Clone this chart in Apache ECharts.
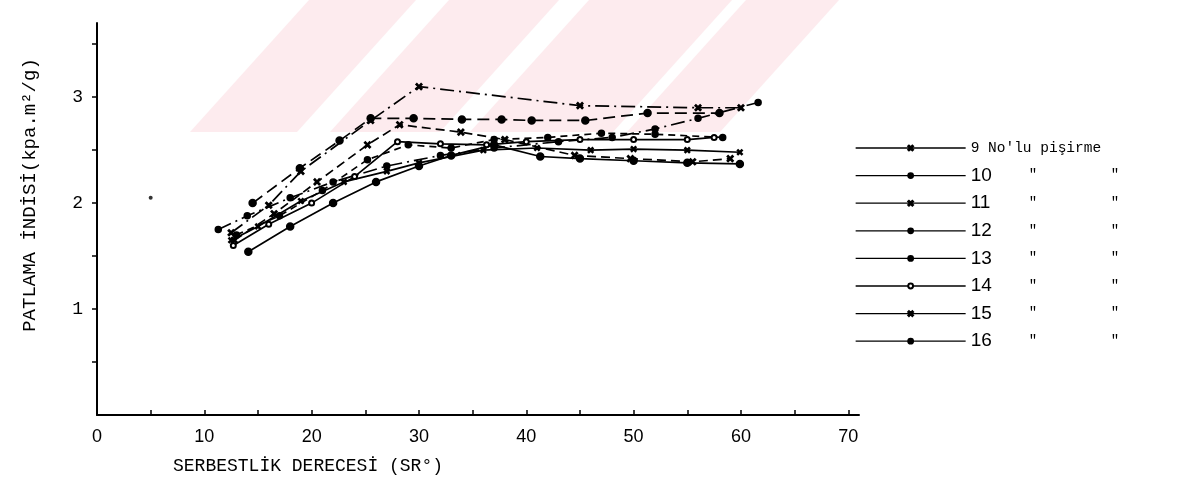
<!DOCTYPE html>
<html>
<head>
<meta charset="utf-8">
<script src="https://cdn.jsdelivr.net/npm/echarts@6/dist/echarts.min.js"></script>
<style>html,body{margin:0;padding:0;background:#fff}#c{width:1187px;height:492px}</style>
</head>
<body>
<div id="c"></div>
<script>
// ---- data ----
const xTickValues = [0,5,10,15,20,25,30,35,40,45,50,55,60,65,70];
const xLabelValues = [0,10,20,30,40,50,60,70];
const yTickValues = [0.5,1,1.5,2,2.5,3,3.5];
const yLabelValues = [1,2,3];
const seriesNames = ['9','10','11','12','13','14','15','16'];

const s9  = [[12.5,1.72],[16,1.98],[19,2.3],[25.5,2.78],[30,3.1],[45,2.92],[56,2.9],[60,2.9]];
const s10 = [[14.5,2.0],[18.9,2.33],[22.6,2.59],[25.5,2.8],[29.5,2.8],[34,2.79],[37.7,2.79],[40.5,2.78],[45.5,2.78],[51.3,2.85],[58,2.85]];
const s11 = [[12.8,1.65],[16.5,1.9],[20.5,2.2],[25.2,2.55],[28.2,2.74],[33.9,2.67],[38,2.6],[44.5,2.45],[49.7,2.42],[55.5,2.39],[59,2.42]];
const s12 = [[13,1.7],[17,1.88],[21,2.12],[25.2,2.41],[29,2.55],[33,2.52],[37,2.6],[42,2.62],[47,2.66],[52,2.65],[58.3,2.62]];
const s13 = [[11.3,1.75],[14,1.88],[18,2.05],[22,2.2],[27,2.35],[32,2.45],[37,2.52],[43,2.58],[48,2.62],[52,2.7],[56,2.8],[61.6,2.95]];
const s14 = [[12.7,1.6],[16,1.8],[20,2.0],[24,2.25],[28,2.58],[32,2.56],[36.3,2.55],[40,2.58],[45,2.6],[50,2.6],[55,2.6],[57.5,2.62]];
const s15 = [[12.5,1.65],[15,1.78],[19,2.02],[23,2.2],[27,2.3],[30,2.38],[36,2.5],[41,2.52],[46,2.5],[50,2.51],[55,2.5],[59.9,2.48]];
const s16 = [[14.1,1.54],[18,1.78],[22,2.0],[26,2.2],[30,2.35],[33,2.45],[37,2.55],[41.3,2.44],[45,2.42],[50,2.4],[55,2.38],[59.9,2.37]];
const strayPoint = [[5,2.05]];

const allData = [s9,s10,s11,s12,s13,s14,s15,s16];

// ---- styles ----
const X_SYM = 'path://M0,1.5L1.5,0L5,3.5L8.5,0L10,1.5L6.5,5L10,8.5L8.5,10L5,6.5L1.5,10L0,8.5L3.5,5Z';
const styles = [
  {dash:[14,5,2,5], sym:X_SYM, size:6},
  {dash:[12,6], sym:'circle', size:7},
  {dash:[9,5], sym:X_SYM, size:6},
  {dash:[7,5], sym:'circle', size:6},
  {dash:[14,5,2,5], sym:'circle', size:6},
  {dash:'solid', sym:'emptyCircle', size:5},
  {dash:'solid', sym:X_SYM, size:5},
  {dash:'solid', sym:'circle', size:7}
];

const series = allData.map((d,i)=>({
  name: seriesNames[i],
  type:'line',
  data:d,
  symbol: styles[i].sym,
  symbolSize: styles[i].size,
  showAllSymbol:true,
  lineStyle:{color:'#000', width:1.7, type:styles[i].dash},
  itemStyle:{color:'#000', borderColor:'#000', borderWidth:1.5},
  emphasis:{disabled:true},
  animation:false,
  z:3
}));
series.push({
  name:'stray', type:'scatter', data:strayPoint, symbol:'circle', symbolSize:4,
  itemStyle:{color:'#000'}, silent:true, animation:false
});

// pink watermark bands (decoration)
const bands = [[190,297],[330,440],[470,613],[627,720]];
const graphic = bands.map(b=>({
  type:'polygon', silent:true, z:-10,
  shape:{points:[[b[0],132],[b[1],132],[b[1]+119,0],[b[0]+119,0]]},
  style:{fill:'#fdebee'}
}));

const mono = '"Liberation Mono", "DejaVu Sans Mono", monospace';

const option = {
  backgroundColor:'#fff',
  animation:false,
  graphic: graphic,
  grid:{left:97, top:23, width:762, bottom:77, containLabel:false},
  xAxis:{
    type:'value', min:0, max:71,
    name:'SERBESTLİK DERECESİ (SR°)', nameLocation:'middle', nameGap:42,
    nameTextStyle:{fontFamily:mono, fontSize:18, color:'#000', padding:[0,340,0,0]},
    axisLine:{show:true, lineStyle:{color:'#000', width:2}},
    axisTick:{show:true, inside:true, length:5, lineStyle:{color:'#000', width:1.5}, customValues:xTickValues},
    axisLabel:{color:'#000', fontFamily:'"Liberation Sans", sans-serif', fontSize:18, margin:13, customValues:xLabelValues},
    splitLine:{show:false}
  },
  yAxis:{
    type:'value', min:0, max:3.7,
    name:'PATLAMA İNDİSİ(kpa.m²/g)', nameLocation:'middle', nameGap:58,
    nameTextStyle:{fontFamily:mono, fontSize:19, color:'#000', padding:[0,0,0,48]},
    axisLine:{show:true, lineStyle:{color:'#000', width:2}},
    axisTick:{show:true, length:5, lineStyle:{color:'#000', width:1.5}, customValues:yTickValues},
    axisLabel:{color:'#000', fontFamily:mono, fontSize:18, margin:14, customValues:yLabelValues},
    splitLine:{show:false}
  },
  legend:{
    data:seriesNames,
    orient:'vertical', left:850, top:133,
    itemWidth:110, itemHeight:6, itemGap:7.6,
    selectedMode:false,
    lineStyle:{type:'solid', width:1.3, color:'#000'},
    textStyle:{color:'#000', fontFamily:mono, fontSize:15, lineHeight:20,
      rich:{
        t:{fontFamily:mono, fontSize:14.5, color:'#000', lineHeight:20},
        n:{fontFamily:'"Liberation Sans", sans-serif', fontSize:19, color:'#000', width:58, lineHeight:20},
        q:{fontFamily:mono, fontSize:14, color:'#000', width:82, lineHeight:20},
        q2:{fontFamily:mono, fontSize:14, color:'#000', lineHeight:20}
      }},
    formatter:function(name){
      if(name==='9') return "{t|9 No'lu pişirme}";
      return '{n|'+name+'}{q|"}{q2|"}';
    }
  },
  series:series
};

const chart = echarts.init(document.getElementById('c'), null, {renderer:'canvas'});
chart.setOption(option);
</script>
</body>
</html>
